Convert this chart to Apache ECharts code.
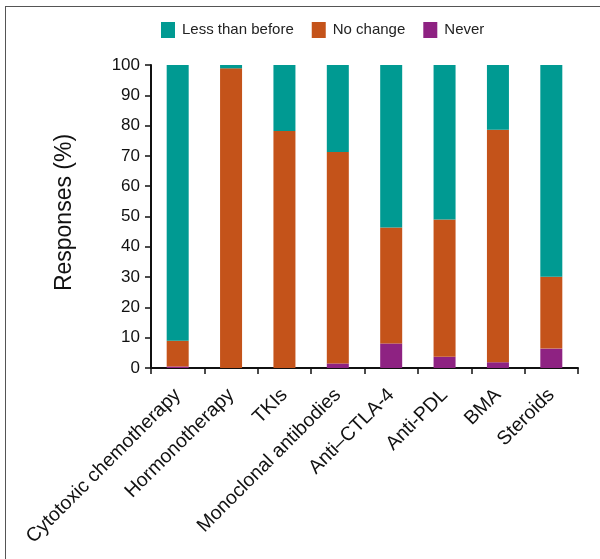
<!DOCTYPE html>
<html>
<head>
<meta charset="utf-8">
<script src="https://cdn.jsdelivr.net/npm/echarts@6/dist/echarts.min.js"></script>
<style>
html,body{margin:0;padding:0;background:#fff;overflow:hidden;}
#frame{position:absolute;left:5px;top:6px;width:620px;height:600px;border:1.5px solid #555;box-sizing:border-box;}
#chart{position:absolute;left:0;top:0;width:600px;height:559px;}
</style>
</head>
<body>
<div id="frame"></div>
<div id="chart"></div>
<script>
const categories = ["Cytotoxic chemotherapy","Hormonotherapy","TKIs","Monoclonal antibodies","Anti\u2013CTLA-4","Anti-PDL","BMA","Steroids"];
const never = [0.5, 0, 0, 1.5, 8.1, 3.7, 1.9, 6.4];
const noChange = [8.5, 98.9, 78.2, 69.8, 38.3, 45.3, 76.7, 23.7];
const lessThanBefore = [91.0, 1.1, 21.8, 28.7, 53.6, 51.0, 21.4, 69.9];
const yTicks = [0, 10, 20, 30, 40, 50, 60, 70, 80, 90, 100];

const chart = echarts.init(document.getElementById('chart'));
const font = 'Arial, "Liberation Sans", Helvetica, sans-serif';
chart.setOption({
  animation: false,
  textStyle: { fontFamily: font },
  legend: {
    data: ['Less than before', 'No change', 'Never'],
    top: 17, left: 156,
    itemWidth: 14, itemHeight: 16, itemGap: 18,
    icon: 'rect',
    textStyle: { fontSize: 15, color: '#222', fontFamily: font, padding: [0, 0, 0, 2] }
  },
  grid: { left: 151, right: 22, top: 65, bottom: 191, containLabel: false },
  xAxis: {
    type: 'category',
    data: categories,
    axisLine: { lineStyle: { color: '#111', width: 2 } },
    axisTick: { show: true, length: 6, lineStyle: { color: '#111', width: 1.5 } },
    axisLabel: { rotate: 45, fontSize: 19.5, color: '#111', margin: 24, fontFamily: font }
  },
  yAxis: {
    type: 'value', min: 0, max: 100, interval: 10,
    name: 'Responses (%)', nameLocation: 'middle', nameGap: 75,
    nameTextStyle: { fontSize: 23, color: '#111', fontFamily: font, padding: [0, 0, 0, 8] },
    axisLine: { show: true, lineStyle: { color: '#111', width: 2 } },
    axisTick: { show: true, length: 6, lineStyle: { color: '#111', width: 1.5 } },
    axisLabel: { fontSize: 17, color: '#111', margin: 11, fontFamily: font,
      formatter: v => yTicks.includes(v) ? String(v) : '' },
    splitLine: { show: false }
  },
  series: [
    { name: 'Never', type: 'bar', stack: 's', data: never, barWidth: 22, itemStyle: { color: '#8E2282' } },
    { name: 'No change', type: 'bar', stack: 's', data: noChange, barWidth: 22, itemStyle: { color: '#C4531A' } },
    { name: 'Less than before', type: 'bar', stack: 's', data: lessThanBefore, barWidth: 22, itemStyle: { color: '#009A92' } }
  ]
});
</script>
</body>
</html>
